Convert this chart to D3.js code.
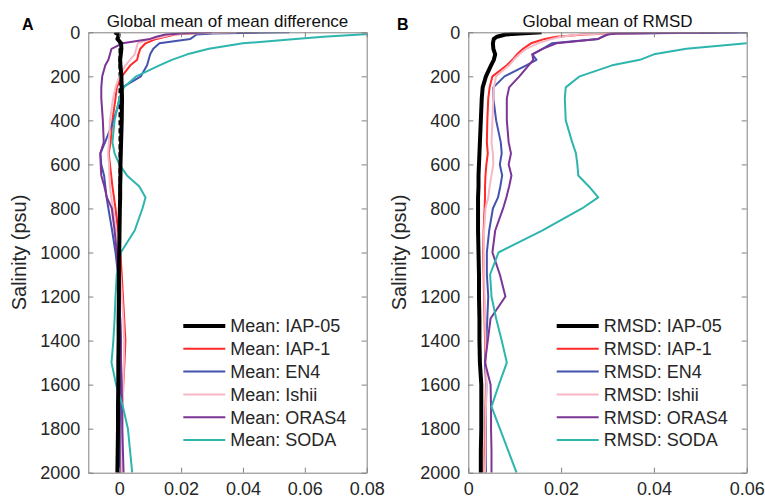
<!DOCTYPE html>
<html>
<head>
<meta charset="utf-8">
<script src="https://cdn.jsdelivr.net/npm/d3@7"></script>
<style>
    body { margin: 0; background: #fff; }
    svg { font-family: "Liberation Sans", Arial, sans-serif; }
</style>
</head>
<body>
<div id="profile-chart"></div>
<script>
// depth levels (m) shared by every profile
var depths = [0, 5, 10, 20, 30, 50, 75, 100, 125, 150, 200, 250, 300, 400, 500, 550, 600, 650, 700, 750, 800, 900, 1000, 1100, 1200, 1300, 1400, 1500, 1600, 1700, 1800, 1900, 2000];

var series_names = ["IAP-05", "IAP-1", "EN4", "Ishii", "ORAS4", "SODA"];
var series_colors = ["#000000", "#ff2a2a", "#4453ad", "#f7b8c6", "#7b3596", "#2db5ae"];
var series_widths = [4, 2, 2, 2, 2, 2];

// panel A: global mean of mean difference
var mean_iap05 = [-0.0015, -0.0008, -0.0002, -0.0003, -0.0006, 0.0006, 0.0007, 0.0005, 0.0003, 0.0004, 0.0007, 0.0008, 0.0009, 0.0008, 0.0006, 0.0005, 0.0004, 0.0004, 0.0003, 0.0003, 0.0002, 0.0001, 0.0000, -0.0001, -0.0001, -0.0002, -0.0002, -0.0003, -0.0003, -0.0004, -0.0004, -0.0005, -0.0006];
var mean_iap1 = [0.045, 0.022, 0.018, 0.015, 0.012, 0.0085, 0.0068, 0.0062, 0.0058, 0.0036, 0.0008, -0.0008, -0.0012, -0.0022, -0.0028, -0.0034, -0.0030, -0.0026, -0.0022, -0.0017, -0.0012, -0.0004, 0.0004, 0.0008, 0.0012, 0.0016, 0.0020, 0.0017, 0.0013, 0.0011, 0.0009, 0.0008, 0.0006];
var mean_en4 = [0.055, 0.030, 0.025, 0.024, 0.023, 0.013, 0.011, 0.010, 0.0095, 0.009, 0.007, 0.001, 0.0003, -0.0018, -0.0046, -0.0061, -0.0058, -0.0049, -0.0045, -0.0041, -0.0035, -0.0023, -0.0012, -0.0004, 0.0000, 0.0003, 0.0006, 0.0005, 0.0004, 0.0003, 0.0002, 0.0002, 0.0002];
var mean_ishii = [0.038, 0.022, 0.017, 0.014, 0.010, 0.006, 0.0055, 0.0050, 0.0035, 0.0020, 0.0000, -0.0012, -0.0020, -0.0030, -0.0033, -0.0036, -0.0033, -0.0032, -0.0030, -0.0026, -0.0020, -0.0010, -0.0002, 0.0004, 0.0009, 0.0013, 0.0016, 0.0015, 0.0013, 0.0011, 0.0010, 0.0009, 0.0008];
var mean_oras4 = [0.030, 0.020, 0.015, 0.012, 0.010, 0.001, -0.0025, -0.0030, -0.0035, -0.0045, -0.0055, -0.0058, -0.0058, -0.0053, -0.0050, -0.0061, -0.0060, -0.0058, -0.0048, -0.0040, -0.0024, -0.0015, -0.0008, -0.0004, 0.0000, 0.0003, 0.0005, 0.0006, 0.0008, 0.0009, 0.0010, 0.0012, 0.0014];
var mean_soda = [0.100, 0.090, 0.078, 0.066, 0.057, 0.040, 0.029, 0.022, 0.017, 0.013, 0.0055, 0.0015, 0.0000, -0.0015, -0.0022, -0.0015, 0.0000, 0.0025, 0.0065, 0.0085, 0.0075, 0.0050, 0.0005, -0.0008, -0.0012, -0.0015, -0.0019, -0.0025, -0.0010, 0.0012, 0.0028, 0.0035, 0.0042];

// panel B: global mean of RMSD
var rmsd_iap05 = [0.0158, 0.0111, 0.0080, 0.0062, 0.0055, 0.0053, 0.0054, 0.0058, 0.0055, 0.0049, 0.0038, 0.0031, 0.0029, 0.0027, 0.0025, 0.0024, 0.0023, 0.0022, 0.0022, 0.0021, 0.0021, 0.0021, 0.0022, 0.0023, 0.0023, 0.0024, 0.0024, 0.0025, 0.0028, 0.0028, 0.0028, 0.0027, 0.0027];
var rmsd_iap1 = [0.053, 0.031, 0.025, 0.019, 0.0165, 0.0135, 0.0118, 0.0105, 0.0095, 0.0083, 0.0052, 0.0046, 0.0043, 0.0041, 0.0040, 0.0042, 0.0039, 0.0037, 0.0036, 0.0036, 0.0035, 0.0033, 0.0032, 0.0033, 0.0034, 0.0035, 0.0036, 0.0037, 0.0038, 0.0037, 0.0036, 0.0035, 0.0035];
var rmsd_en4 = [0.065, 0.031, 0.030, 0.029, 0.028, 0.018, 0.016, 0.0138, 0.0147, 0.0125, 0.0078, 0.0054, 0.0054, 0.0060, 0.0070, 0.0072, 0.0068, 0.0073, 0.0069, 0.0064, 0.0053, 0.0045, 0.0040, 0.0040, 0.0043, 0.0041, 0.0039, 0.0036, 0.0039, 0.0038, 0.0038, 0.0038, 0.0038];
var rmsd_ishii = [0.050, 0.030, 0.024, 0.020, 0.018, 0.015, 0.0125, 0.0110, 0.0098, 0.0088, 0.0060, 0.0055, 0.0054, 0.0052, 0.0050, 0.0053, 0.0054, 0.0050, 0.0046, 0.0043, 0.0037, 0.0034, 0.0033, 0.0034, 0.0035, 0.0036, 0.0037, 0.0038, 0.0039, 0.0038, 0.0037, 0.0037, 0.0036];
var rmsd_oras4 = [0.058, 0.032, 0.030, 0.029, 0.028, 0.019, 0.016, 0.0138, 0.0140, 0.0130, 0.0110, 0.0088, 0.0083, 0.0083, 0.0087, 0.0092, 0.0087, 0.0093, 0.0088, 0.0082, 0.0075, 0.0058, 0.0052, 0.0068, 0.0080, 0.0048, 0.0042, 0.0036, 0.0048, 0.0049, 0.0049, 0.0050, 0.0050];
var rmsd_soda = [0.110, 0.100, 0.095, 0.085, 0.075, 0.060, 0.047, 0.040, 0.037, 0.031, 0.024, 0.021, 0.0208, 0.0210, 0.0224, 0.0232, 0.0235, 0.0237, 0.0260, 0.0280, 0.0245, 0.0160, 0.0065, 0.0047, 0.0050, 0.0060, 0.0072, 0.0083, 0.0066, 0.0050, 0.0068, 0.0086, 0.0104];

var depth_ticks = [0, 200, 400, 600, 800, 1000, 1200, 1400, 1600, 1800, 2000];
var mean_ticks = [0, 0.02, 0.04, 0.06, 0.08];
var rmsd_ticks = [0, 0.02, 0.04, 0.06];
var mean_domain = [-0.01, 0.08];
var rmsd_domain = [0, 0.06];

var axis_grey = "#808080";
var label_colour = "#262626";

function fmt_tick(d) {
    return d === 0 ? "0" : d3.format(".2f")(d);
}

function draw_panel(svg, p) {
    var x = d3.scaleLinear().domain(p.domain).range([p.left, p.left + p.width]);
    var y = d3.scaleLinear().domain([0, 2000]).range([p.top, p.top + p.height]);

    svg.append("clipPath")
        .attr("id", "clip-" + p.id)
        .append("rect")
        .attr("x", p.left).attr("y", p.top)
        .attr("width", p.width).attr("height", p.height);

    var plot = svg.append("g").attr("clip-path", "url(#clip-" + p.id + ")");

    if (p.zero_line) {
        plot.append("line")
            .attr("x1", x(0)).attr("x2", x(0))
            .attr("y1", p.top).attr("y2", p.top + p.height)
            .style("stroke", "#000")
            .style("stroke-width", 1.5)
            .style("stroke-dasharray", "5,3");
    }

    var line = d3.line()
        .x(function (d) { return x(d[1]); })
        .y(function (d) { return y(d[0]); });

    // draw black reference last so it sits on top
    var order = [1, 2, 3, 4, 5, 0];
    order.forEach(function (i) {
        plot.append("path")
            .datum(d3.zip(depths, p.series[i]))
            .attr("d", line)
            .style("fill", "none")
            .style("stroke", series_colors[i])
            .style("stroke-width", series_widths[i])
            .style("stroke-linejoin", "round");
    });

    // box with inward ticks on all four sides
    var bottom = svg.append("g")
        .attr("transform", "translate(0," + (p.top + p.height) + ")")
        .call(d3.axisBottom(x).tickValues(p.ticks).tickFormat(fmt_tick)
            .tickSizeInner(-5).tickSizeOuter(0).tickPadding(10));
    var top = svg.append("g")
        .attr("transform", "translate(0," + p.top + ")")
        .call(d3.axisTop(x).tickValues(p.ticks).tickFormat("")
            .tickSizeInner(-5).tickSizeOuter(0));
    var left = svg.append("g")
        .attr("transform", "translate(" + p.left + ",0)")
        .call(d3.axisLeft(y).tickValues(depth_ticks).tickFormat(d3.format("d"))
            .tickSizeInner(-5).tickSizeOuter(0).tickPadding(8));
    var right = svg.append("g")
        .attr("transform", "translate(" + (p.left + p.width) + ",0)")
        .call(d3.axisRight(y).tickValues(depth_ticks).tickFormat("")
            .tickSizeInner(-5).tickSizeOuter(0));

    [bottom, top, left, right].forEach(function (g) {
        g.attr("font-family", null).attr("font-size", null);
        g.selectAll("path, line").style("stroke", axis_grey).style("stroke-width", 1);
        g.selectAll("text").style("font-size", "18px").style("fill", label_colour);
    });

    svg.append("text")
        .attr("x", p.left + p.width / 2)
        .attr("y", 27)
        .attr("text-anchor", "middle")
        .style("font-size", "17px")
        .style("fill", "#111")
        .text(p.title);

    svg.append("text")
        .attr("x", p.letter_x)
        .attr("y", 30)
        .style("font-size", "16px")
        .style("font-weight", "bold")
        .text(p.letter);

    svg.append("text")
        .attr("transform", "translate(" + (p.left - 62) + "," + (p.top + p.height / 2) + ") rotate(-90)")
        .attr("text-anchor", "middle")
        .style("font-size", "20px")
        .style("fill", label_colour)
        .text("Salinity (psu)");

    // legend
    var legend = svg.append("g")
        .attr("transform", "translate(" + p.legend_x + "," + 326 + ")");
    series_names.forEach(function (name, i) {
        var row = legend.append("g").attr("transform", "translate(0," + (i * 22.8) + ")");
        row.append("line")
            .attr("x1", 0).attr("x2", 42)
            .style("stroke", series_colors[i])
            .style("stroke-width", series_widths[i]);
        row.append("text")
            .attr("x", 47)
            .attr("dy", "0.35em")
            .style("font-size", "18px")
            .style("fill", label_colour)
            .text(p.prefix + ": " + name);
    });
}

function profile_chart() {
    var width = 765, height = 501;
    var svg = d3.select("#profile-chart")
        .append("svg")
        .attr("width", width)
        .attr("height", height);

    draw_panel(svg, {
        id: "a", left: 88.3, top: 32.3, width: 278.4, height: 440.4,
        domain: mean_domain, ticks: mean_ticks,
        series: [mean_iap05, mean_iap1, mean_en4, mean_ishii, mean_oras4, mean_soda],
        title: "Global mean of mean difference", letter: "A", letter_x: 22,
        prefix: "Mean", legend_x: 183.3, zero_line: true
    });

    draw_panel(svg, {
        id: "b", left: 468.3, top: 32.3, width: 278.4, height: 440.4,
        domain: rmsd_domain, ticks: rmsd_ticks,
        series: [rmsd_iap05, rmsd_iap1, rmsd_en4, rmsd_ishii, rmsd_oras4, rmsd_soda],
        title: "Global mean of RMSD", letter: "B", letter_x: 397,
        prefix: "RMSD", legend_x: 556.7, zero_line: false
    });
}

profile_chart();
</script>
</body>
</html>
